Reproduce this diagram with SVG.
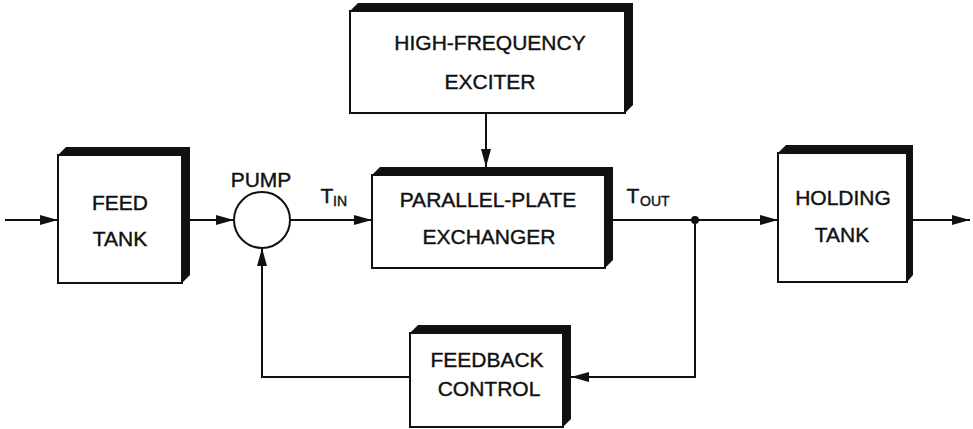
<svg xmlns="http://www.w3.org/2000/svg" width="973" height="429" viewBox="0 0 973 429">
<style>
.face{fill:#fff;stroke:#111;stroke-width:2}
.shadow{fill:#111}
.lbl{font-family:"Liberation Sans",Arial,sans-serif;font-size:21px;fill:#111;text-anchor:middle;stroke:#111;stroke-width:0.4}
.sub{font-size:14px;text-anchor:start}
.wire{fill:none;stroke:#111;stroke-width:2}
</style>
<defs>
<marker id="arr" viewBox="0 0 18 12" refX="18" refY="6" markerWidth="18" markerHeight="12" markerUnits="userSpaceOnUse" orient="auto">
<path d="M0,1 L18,6 L0,11 Z" fill="#111"/>
</marker>
</defs>
<rect width="973" height="429" fill="#fff"/>

<g id="connectors">
<line class="wire" x1="5" y1="220" x2="58" y2="220" marker-end="url(#arr)"/>
<line class="wire" x1="190" y1="220" x2="234" y2="220" marker-end="url(#arr)"/>
<line class="wire" x1="290" y1="220" x2="372" y2="220" marker-end="url(#arr)"/>
<line class="wire" x1="486" y1="113" x2="486" y2="167" marker-end="url(#arr)"/>
<line class="wire" x1="613" y1="220" x2="778" y2="220" marker-end="url(#arr)"/>
<line class="wire" x1="913" y1="220" x2="970" y2="220" marker-end="url(#arr)"/>
<polyline class="wire" points="695,220 695,377 571,377" marker-end="url(#arr)"/>
<polyline class="wire" points="410,377 262,377 262,248" marker-end="url(#arr)"/>
<circle cx="695" cy="220" r="4" fill="#111"/>
</g>

<g id="feed-tank">
<polygon class="shadow" points="58,155 66,147 190,147 190,275 182,283 182,155"/>
<rect class="face" x="58" y="155" width="124" height="128"/>
<text class="lbl" x="120" y="210">FEED</text>
<text class="lbl" x="120" y="246">TANK</text>
</g>

<g id="pump">
<circle class="face" cx="262" cy="220" r="28"/>
<text class="lbl" x="261" y="187">PUMP</text>
</g>

<g id="t-in">
<text class="lbl" x="327" y="203">T</text>
<text class="lbl sub" x="333" y="206">IN</text>
</g>

<g id="exciter">
<polygon class="shadow" points="350,11 358,3 633,3 633,105 625,113 625,11"/>
<rect class="face" x="350" y="11" width="275" height="102"/>
<text class="lbl" x="490" y="50">HIGH-FREQUENCY</text>
<text class="lbl" x="490" y="89">EXCITER</text>
</g>

<g id="exchanger">
<polygon class="shadow" points="372,175 380,167 613,167 613,260 605,268 605,175"/>
<rect class="face" x="372" y="175" width="233" height="93"/>
<text class="lbl" x="488" y="207">PARALLEL-PLATE</text>
<text class="lbl" x="489" y="244">EXCHANGER</text>
</g>

<g id="t-out">
<text class="lbl" x="633" y="203">T</text>
<text class="lbl sub" x="640" y="206">OUT</text>
</g>

<g id="holding-tank">
<polygon class="shadow" points="778,153 786,145 913,145 913,275 907,282 907,153"/>
<rect class="face" x="778" y="153" width="129" height="129"/>
<text class="lbl" x="843" y="205">HOLDING</text>
<text class="lbl" x="842" y="242">TANK</text>
</g>

<g id="feedback-control">
<polygon class="shadow" points="410,333 418,325 571,325 571,419 563,427 563,333"/>
<rect class="face" x="410" y="333" width="153" height="94"/>
<text class="lbl" x="487" y="367">FEEDBACK</text>
<text class="lbl" x="489" y="396">CONTROL</text>
</g>
</svg>
